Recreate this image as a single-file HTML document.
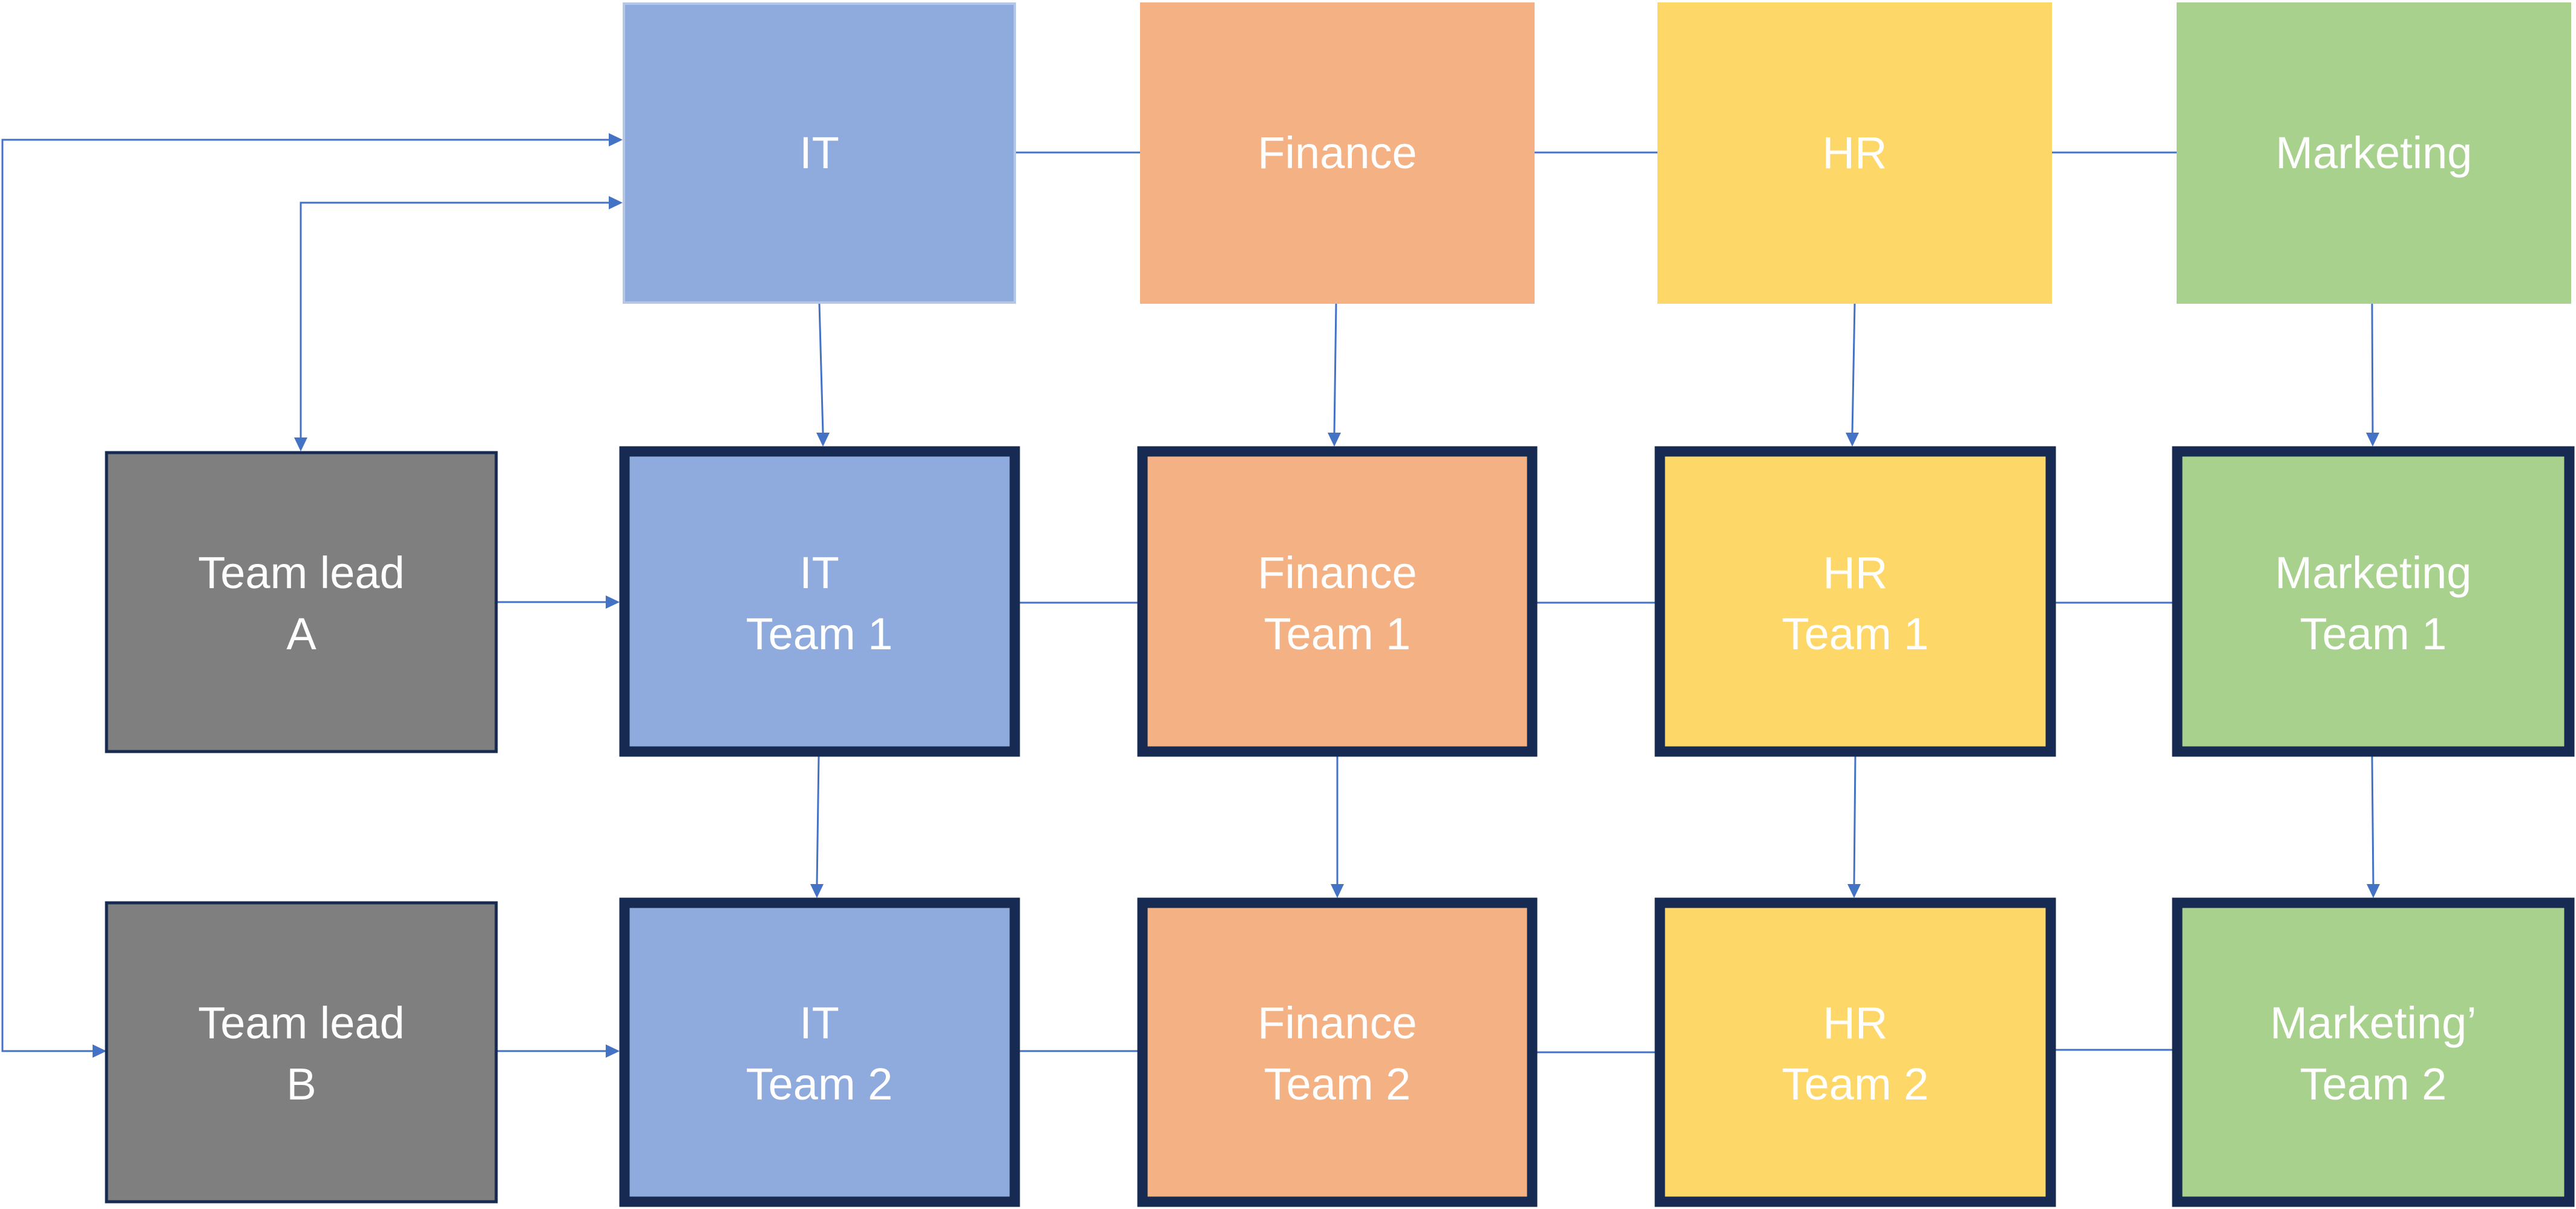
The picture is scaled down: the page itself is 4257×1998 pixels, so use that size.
<!DOCTYPE html>
<html><head><meta charset="utf-8"><style>
html,body{margin:0;padding:0;background:#fff;width:4257px;height:1998px;overflow:hidden}
text{font-family:"Liberation Sans",sans-serif;font-size:74px;fill:#fff;text-anchor:middle}
</style></head><body>
<svg width="4257" height="1998" viewBox="0 0 4257 1998" xmlns="http://www.w3.org/2000/svg">
<g stroke="#4472c4" stroke-width="3" fill="none">
<line x1="1679" y1="252" x2="1884" y2="252"/>
<line x1="2536" y1="252" x2="2739" y2="252"/>
<line x1="3391" y1="252" x2="3597" y2="252"/>
<line x1="1685" y1="996" x2="1880" y2="996"/>
<line x1="2540" y1="996" x2="2735" y2="996"/>
<line x1="3397" y1="996" x2="3590" y2="996"/>
<line x1="1685" y1="1737" x2="1880" y2="1737"/>
<line x1="2540" y1="1739" x2="2735" y2="1739"/>
<line x1="3397" y1="1735" x2="3590" y2="1735"/>
<polyline points="174,1737 4,1737 4,231 1008,231"/>
<polyline points="497,725 497,335 1008,335"/>
<line x1="822" y1="995" x2="1002" y2="995"/>
<line x1="822" y1="1737" x2="1002" y2="1737"/>
<line x1="1354" y1="502" x2="1360" y2="716"/>
<line x1="2208" y1="502" x2="2205" y2="716"/>
<line x1="3065" y1="502" x2="3061" y2="716"/>
<line x1="3920" y1="502" x2="3921" y2="716"/>
<line x1="1353" y1="1250" x2="1350" y2="1462"/>
<line x1="2210" y1="1250" x2="2210" y2="1462"/>
<line x1="3066" y1="1250" x2="3064" y2="1462"/>
<line x1="3920" y1="1250" x2="3922" y2="1462"/>
</g>
<g fill="#4472c4">
<polygon points="1029,231 1006,220 1006,242"/>
<polygon points="1029,335 1006,324 1006,346"/>
<polygon points="1024,995 1001,984 1001,1006"/>
<polygon points="1024,1737 1001,1726 1001,1748"/>
<polygon points="176,1737 153,1726 153,1748"/>
<polygon points="497,746 486,723 508,723"/>
<polygon points="1360,738 1349,715 1371,715"/>
<polygon points="2205,738 2194,715 2216,715"/>
<polygon points="3061,738 3050,715 3072,715"/>
<polygon points="3921,738 3910,715 3932,715"/>
<polygon points="1350,1484 1339,1461 1361,1461"/>
<polygon points="2210,1484 2199,1461 2221,1461"/>
<polygon points="3064,1484 3053,1461 3075,1461"/>
<polygon points="3922,1484 3911,1461 3933,1461"/>
</g>
<rect x="1031" y="6" width="646" height="494" fill="#8faadc" stroke="#b4c7e7" stroke-width="4"/>
<rect x="1884" y="4" width="652" height="498" fill="#f4b183"/>
<rect x="2739" y="4" width="652" height="498" fill="#fdd868"/>
<rect x="3597" y="4" width="652" height="498" fill="#a9d18e"/>
<rect x="176" y="748" width="644" height="494" fill="#7f7f7f" stroke="#172b52" stroke-width="5"/>
<rect x="176" y="1492" width="644" height="494" fill="#7f7f7f" stroke="#172b52" stroke-width="5"/>
<g stroke="#172b52" stroke-width="17">
<rect x="1032" y="746" width="645" height="496" fill="#8faadc"/>
<rect x="1888" y="746" width="644" height="496" fill="#f4b183"/>
<rect x="2743" y="746" width="646" height="496" fill="#fdd868"/>
<rect x="3598" y="746" width="648" height="496" fill="#a9d18e"/>
<rect x="1032" y="1492" width="645" height="494" fill="#8faadc"/>
<rect x="1888" y="1492" width="644" height="494" fill="#f4b183"/>
<rect x="2743" y="1492" width="646" height="494" fill="#fdd868"/>
<rect x="3598" y="1492" width="648" height="494" fill="#a9d18e"/>
</g>
<text x="1354" y="278">IT</text>
<text x="2210" y="278">Finance</text>
<text x="3065" y="278">HR</text>
<text x="3923" y="278">Marketing</text>
<text x="498" y="972">Team lead</text><text x="498" y="1073">A</text>
<text x="1354" y="972">IT</text><text x="1354" y="1073">Team 1</text>
<text x="2210" y="972">Finance</text><text x="2210" y="1073">Team 1</text>
<text x="3066" y="972">HR</text><text x="3066" y="1073">Team 1</text>
<text x="3922" y="972">Marketing</text><text x="3922" y="1073">Team 1</text>
<text x="498" y="1716">Team lead</text><text x="498" y="1817">B</text>
<text x="1354" y="1716">IT</text><text x="1354" y="1817">Team 2</text>
<text x="2210" y="1716">Finance</text><text x="2210" y="1817">Team 2</text>
<text x="3066" y="1716">HR</text><text x="3066" y="1817">Team 2</text>
<text x="3922" y="1716">Marketing’</text><text x="3922" y="1817">Team 2</text>
</svg>
</body></html>
